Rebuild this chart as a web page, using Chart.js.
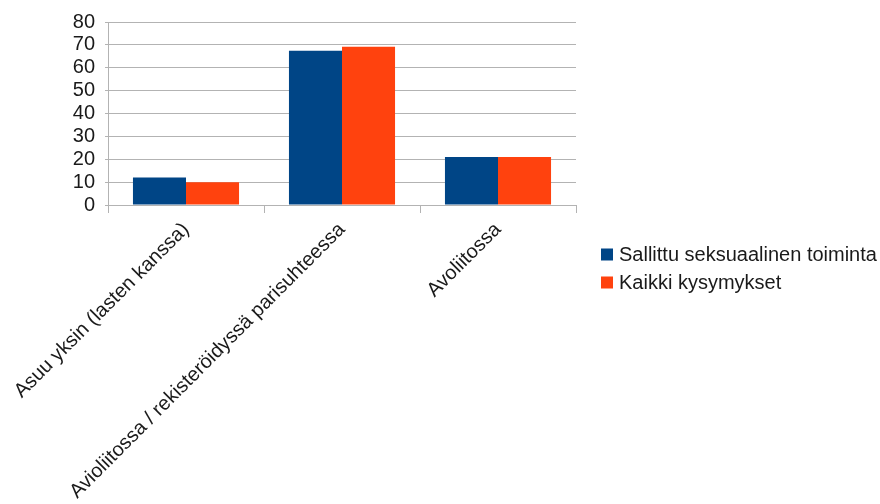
<!DOCTYPE html>
<html>
<head>
<meta charset="utf-8">
<script src="https://cdn.jsdelivr.net/npm/chart.js@4/dist/chart.umd.min.js"></script>
<style>
  body { margin: 0; background: #fff; }
  #wrap { width: 880px; height: 504px; }
</style>
</head>
<body>
<div id="wrap"><canvas id="chart-div" width="880" height="504"></canvas></div>
<script>
const categories = ['Asuu yksin (lasten kanssa)', 'Avioliitossa / rekisteröidyssä parisuhteessa', 'Avoliitossa'];
const sallittu = [12, 67.4, 21];
const kaikki = [10, 69.2, 21];
const seriesNames = ['Sallittu seksuaalinen toiminta', 'Kaikki kysymykset'];
const yTicks = [0, 10, 20, 30, 40, 50, 60, 70, 80];

const gridGray = '#b3b3b3';
const font = 'Liberation Sans, Arial, sans-serif';

// legend drawn by hand so it sits where LibreOffice put it
const sideLegend = {
  id: 'sideLegend',
  afterDraw(chart) {
    const ctx = chart.ctx;
    ctx.save();
    ctx.font = '20px ' + font;
    ctx.textBaseline = 'middle';
    chart.data.datasets.forEach((ds, i) => {
      const y = 254.5 + i * 28;
      ctx.fillStyle = ds.backgroundColor;
      ctx.fillRect(601, y - 6, 12, 12);
      ctx.fillStyle = '#1a1a1a';
      ctx.fillText(ds.label, 619, y + 1);
    });
    ctx.restore();
  }
};

new Chart(document.getElementById('chart-div'), {
  type: 'bar',
  data: {
    labels: categories,
    datasets: [
      { label: seriesNames[0], data: sallittu, backgroundColor: '#004586' },
      { label: seriesNames[1], data: kaikki, backgroundColor: '#ff420e' }
    ]
  },
  options: {
    responsive: false,
    animation: false,
    devicePixelRatio: 1,
    categoryPercentage: 0.68,
    barPercentage: 1.0,
    layout: { padding: { top: 18, right: 304, bottom: 0, left: 0 } },
    plugins: {
      legend: { display: false },
      tooltip: { enabled: false }
    },
    scales: {
      x: {
        offset: true,
        grid: {
          offset: true,
          color: ctx => (ctx.index === 0 || ctx.index === categories.length) ? gridGray : 'rgba(0,0,0,0)',
          tickColor: gridGray,
          tickLength: 8,
          lineWidth: 1
        },
        border: { color: gridGray },
        ticks: {
          minRotation: 45,
          maxRotation: 45,
          autoSkip: false,
          padding: 5,
          color: '#1a1a1a',
          font: { family: font, size: 20 }
        },
        afterFit(scale) {
          scale.height = 299;
          scale.paddingLeft = 0;
          scale.paddingRight = 0;
        }
      },
      y: {
        min: 0,
        max: 80,
        afterBuildTicks(scale) { scale.ticks = yTicks.map(v => ({ value: v })); },
        grid: { color: gridGray, tickLength: 3, lineWidth: 1 },
        border: { color: gridGray },
        ticks: {
          autoSkip: false,
          padding: 10,
          color: '#1a1a1a',
          font: { family: font, size: 20 }
        },
        afterFit(scale) { scale.width = 108; }
      }
    }
  },
  plugins: [sideLegend]
});
</script>
</body>
</html>
